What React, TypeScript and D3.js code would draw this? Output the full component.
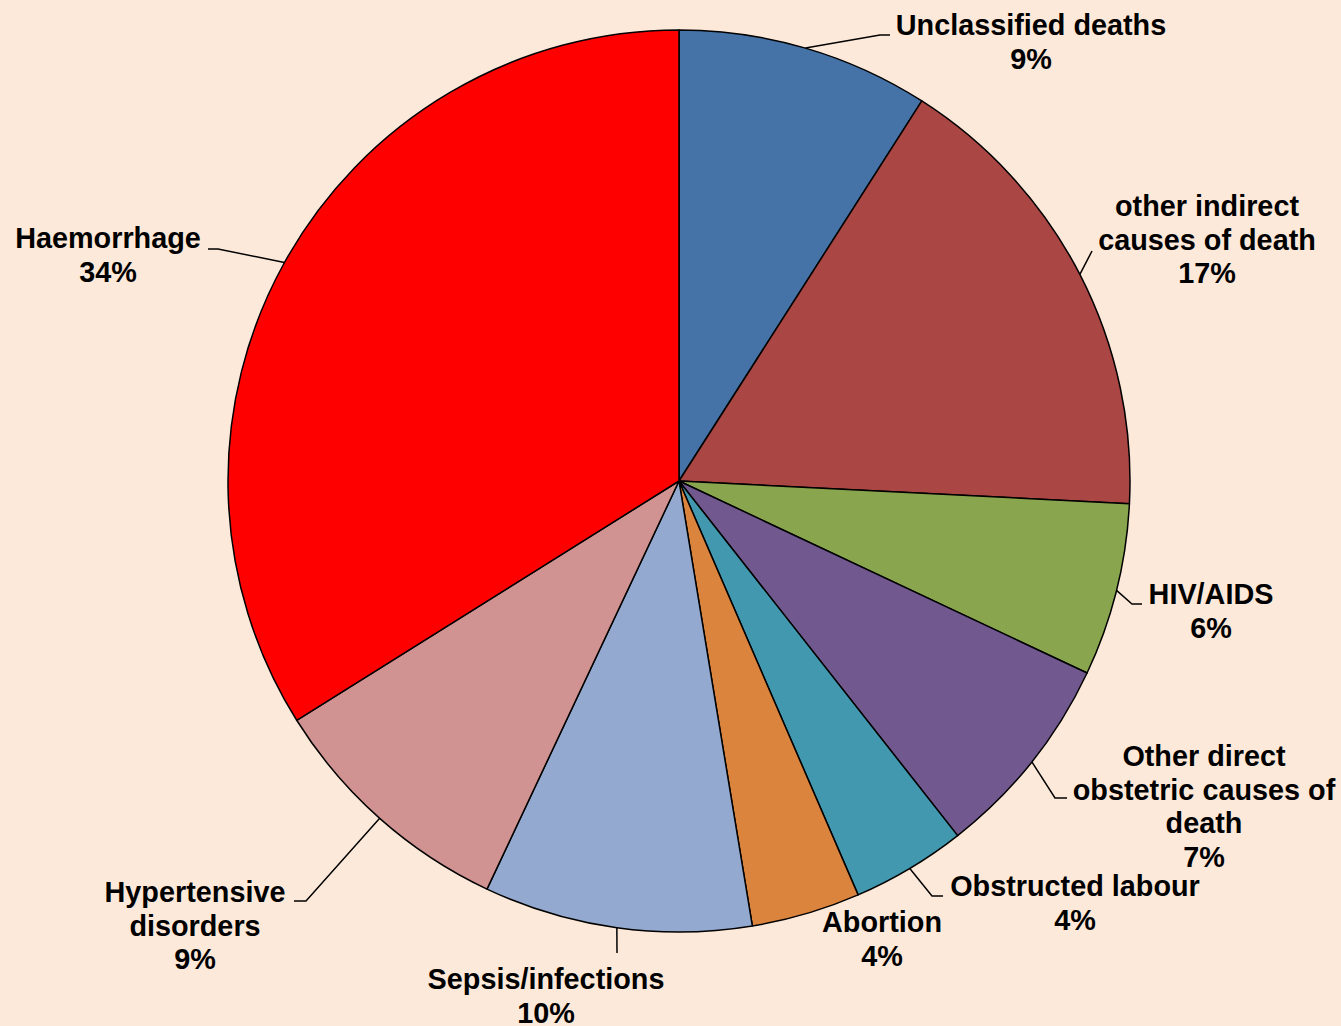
import * as d3 from 'd3'
import { useEffect, useRef } from 'react'

// slice values (clockwise from 12 o'clock)
const causes = [
  'Unclassified deaths',
  'other indirect causes of death',
  'HIV/AIDS',
  'Other direct obstetric causes of death',
  'Obstructed labour',
  'Abortion',
  'Sepsis/infections',
  'Hypertensive disorders',
  'Haemorrhage',
]
const shares = [9.05, 16.75, 6.2, 7.4, 4.1, 3.9, 9.6, 9.1, 33.9]
const percentLabels = ['9%', '17%', '6%', '7%', '4%', '4%', '10%', '9%', '34%']
const labelLines = [
  ['Unclassified deaths'],
  ['other indirect', 'causes of death'],
  ['HIV/AIDS'],
  ['Other direct', 'obstetric causes of', 'death'],
  ['Obstructed labour'],
  ['Abortion'],
  ['Sepsis/infections'],
  ['Hypertensive', 'disorders'],
  ['Haemorrhage'],
]
const colors = ['#4572A7', '#AA4643', '#89A54E', '#71588F', '#4198AF', '#DB843D', '#93A9CF', '#D19392', '#FF0000']

// label placement: text centre x, first baseline y, leader elbow and end of the short horizontal
const labelLayout = [
  { x: 1031, y: 35, elbow: [880, 35], end: 890 },
  { x: 1207, y: 216, elbow: [1092, 251], end: 1092 },
  { x: 1211, y: 604, elbow: [1132, 604], end: 1142 },
  { x: 1204, y: 766, elbow: [1055, 798], end: 1067 },
  { x: 1075, y: 896, elbow: [932, 896], end: 943 },
  { x: 882, y: 932, elbow: null, end: 0 },
  { x: 546, y: 989, elbow: [617, 953], end: 617 },
  { x: 195, y: 902, elbow: [306, 901], end: 294 },
  { x: 108, y: 248, elbow: [218, 249], end: 208 },
]

const W = 1341
const H = 1026
const cx = 679
const cy = 481
const R = 451
const lineGap = 33.5

export default function App() {
  const svgRef = useRef<SVGSVGElement>(null)

  useEffect(() => {
    const svg = d3.select(svgRef.current)
    svg.selectAll('*').remove()

    svg.append('rect').attr('width', W).attr('height', H).attr('fill', '#FDE9D9')

    const pie = d3.pie<number>().sort(null).value(d => d)
    const arcs = pie(shares)
    const arc = d3.arc<d3.PieArcDatum<number>>().innerRadius(0).outerRadius(R)

    const g = svg.append('g').attr('transform', `translate(${cx},${cy})`)
    g.selectAll('path')
      .data(arcs)
      .join('path')
      .attr('d', arc)
      .attr('fill', (_, i) => colors[i])
      .attr('stroke', '#000')
      .attr('stroke-width', 1.5)
      .attr('stroke-linejoin', 'round')

    // leader lines
    arcs.forEach((a, i) => {
      const lay = labelLayout[i]
      if (!lay.elbow) return
      const mid = (a.startAngle + a.endAngle) / 2
      const sx = cx + R * Math.sin(mid)
      const sy = cy - R * Math.cos(mid)
      const pts: [number, number][] = [[sx, sy], [lay.elbow[0], lay.elbow[1]], [lay.end, lay.elbow[1]]]
      svg.append('path')
        .attr('d', d3.line()(pts))
        .attr('fill', 'none')
        .attr('stroke', '#000')
        .attr('stroke-width', 1.5)
    })

    // labels
    causes.forEach((c, i) => {
      const lay = labelLayout[i]
      const lines = [...labelLines[i], percentLabels[i]]
      const t = svg.append('text')
        .attr('text-anchor', 'middle')
        .attr('font-family', '"Liberation Sans", Arial, sans-serif')
        .attr('font-weight', 'bold')
        .attr('font-size', 28.8)
        .attr('fill', '#000')
        .attr('data-name', c)
      lines.forEach((l, j) => {
        t.append('tspan').attr('x', lay.x).attr('y', lay.y + j * lineGap).text(l)
      })
    })
  }, [])

  return (
    <div style={{ position: 'absolute', left: 0, top: 0 }}>
      <svg ref={svgRef} width={W} height={H} style={{ display: 'block' }} />
    </div>
  )
}
